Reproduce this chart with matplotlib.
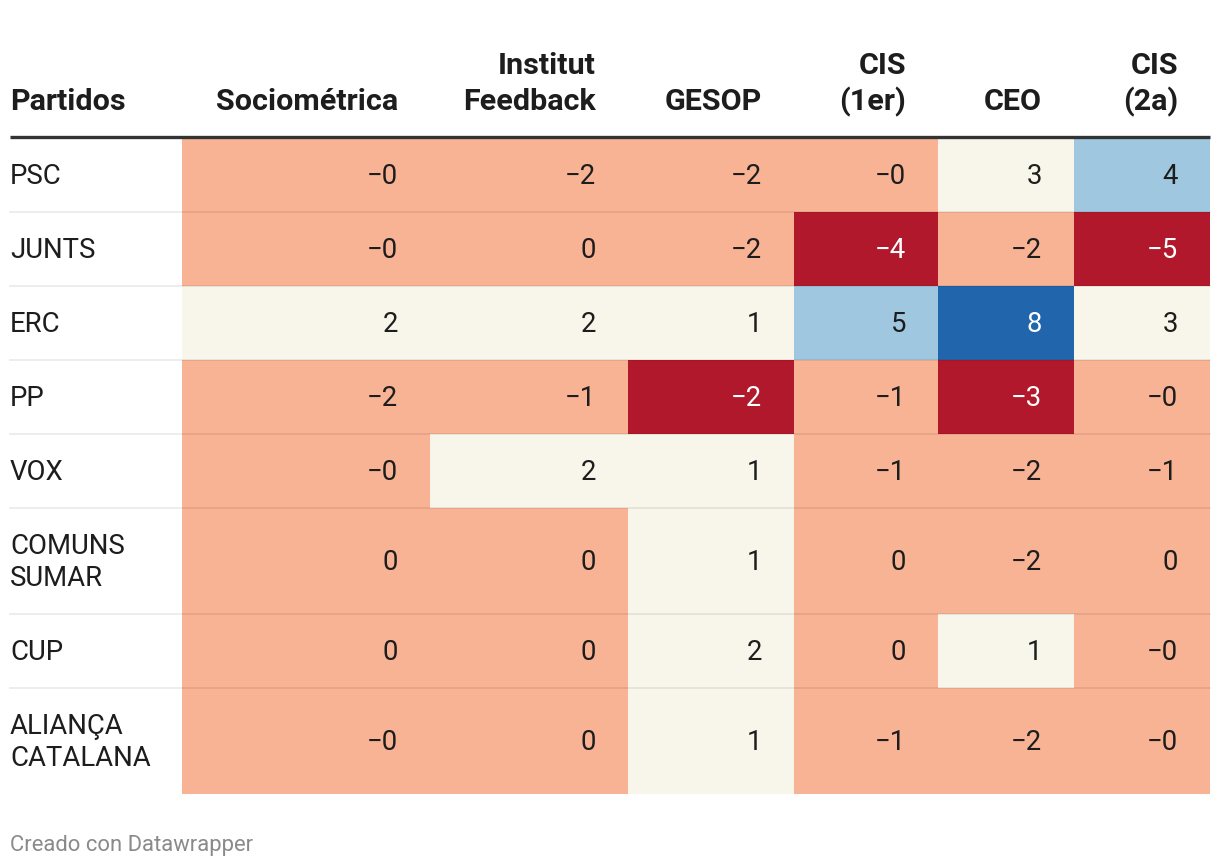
import matplotlib
matplotlib.use("Agg")
import matplotlib.pyplot as plt
import numpy as np
from matplotlib.colors import ListedColormap, BoundaryNorm

plt.rcParams['font.family'] = ['Roboto', 'DejaVu Sans']

# ---- data ----
partidos = ["PSC", "JUNTS", "ERC", "PP", "VOX", "COMUNS\nSUMAR", "CUP", "ALIANÇA\nCATALANA"]
encuestas = ["Sociométrica", "Institut\nFeedback", "GESOP", "CIS\n(1er)", "CEO", "CIS\n(2a)"]
psc = [-0.3, -2.0, -2.0, -0.2, 3.0, 4.0]
junts = [-0.3, 0.0, -2.0, -4.0, -2.0, -5.0]
erc = [2.0, 2.0, 1.0, 5.0, 8.0, 3.0]
pp = [-2.0, -1.0, -2.45, -1.0, -3.0, -0.3]
vox = [-0.3, 2.0, 1.0, -1.0, -2.0, -1.0]
comuns = [0.0, 0.0, 1.0, 0.0, -2.0, 0.0]
cup = [0.0, 0.0, 2.0, 0.0, 1.0, -0.3]
alianca = [-0.3, 0.0, 1.0, -1.0, -2.0, -0.3]
values = np.array([psc, junts, erc, pp, vox, comuns, cup, alianca])

# ---- styling ----
bin_colors = ["#b2182b", "#f8b294", "#f8f6ea", "#a0c7e0", "#2166ac"]
bounds = [-10, -2.4, 0.5, 3.5, 6, 10]
cmap = ListedColormap(bin_colors)
norm = BoundaryNorm(bounds, cmap.N)
dark_bins = {0, 4}

W, H = 1220, 868
fig = plt.figure(figsize=(W / 100, H / 100), dpi=100)
ax = fig.add_axes([0, 0, 1, 1])
ax.set_xlim(0, W)
ax.set_ylim(H, 0)
ax.axis("off")

px = 0.72  # px -> pt
col_edges = [182, 430, 628, 794, 938, 1074, 1210]
left = 10
pad = 32
top = 138
single_h = 74
double_h = 106

# header
hdr_fs = 30.5 * px
hdr_base = 110
hdr_ls = 36
ax.text(left, hdr_base, "Partidos", fontsize=hdr_fs, fontweight="bold",
        color="#1d1d1d", ha="left", va="baseline")
for j, name in enumerate(encuestas):
    lines = name.split("\n")
    xr = col_edges[j + 1] - pad
    for k, ln in enumerate(reversed(lines)):
        ax.text(xr, hdr_base - k * hdr_ls, ln, fontsize=hdr_fs, fontweight="bold",
                color="#1d1d1d", ha="right", va="baseline")

# rows
body_fs = 27.5 * px
y = top
row_bounds = []
for i, p in enumerate(partidos):
    h = double_h if "\n" in p else single_h
    row_bounds.append((y, y + h))
    y += h

for i, p in enumerate(partidos):
    y0, y1 = row_bounds[i]
    yc = (y0 + y1) / 2
    for j in range(len(encuestas)):
        v = values[i, j]
        rgba = cmap(norm(v))
        b = int(norm(v))
        ax.add_patch(plt.Rectangle((col_edges[j], y0), col_edges[j + 1] - col_edges[j], y1 - y0,
                                   facecolor=rgba, edgecolor="none", zorder=1))
        txt = f"{v:.0f}".replace("-", "\u2212")
        ax.text(col_edges[j + 1] - pad, yc + 1, txt, fontsize=body_fs,
                color="white" if b in dark_bins else "#1d1d1d",
                ha="right", va="center", zorder=3)
    lines = p.split("\n")
    n = len(lines)
    for k, ln in enumerate(lines):
        ax.text(left, yc + (k - (n - 1) / 2) * 32 + 1, ln, fontsize=body_fs,
                color="#1d1d1d", ha="left", va="center", zorder=3)
    if i < len(partidos) - 1:
        ax.plot([left, col_edges[-1]], [y1, y1], color=(0, 0, 0, 0.07), lw=1.4, zorder=2)

# header rule
ax.plot([left, col_edges[-1]], [136.5, 136.5], color="#333333", lw=2.4, solid_capstyle="butt", zorder=4)

# footer
ax.text(left, 845, "Creado con Datawrapper", fontsize=22 * px, color="#8a8a8a",
        ha="left", va="center")

fig.savefig("out.png", dpi=100)
